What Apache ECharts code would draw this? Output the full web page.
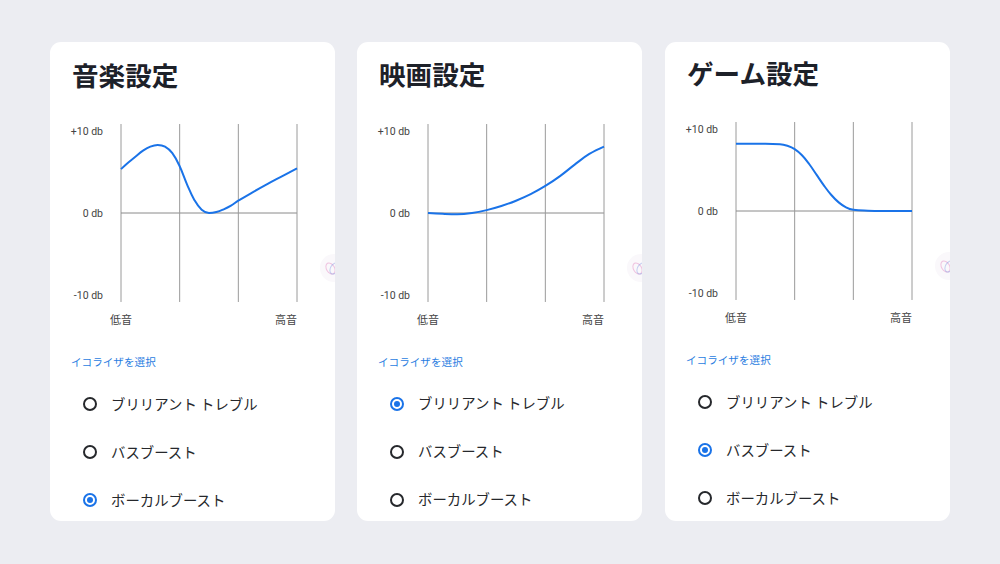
<!DOCTYPE html>
<html><head><meta charset="utf-8">
<script src="https://cdn.jsdelivr.net/npm/echarts@6/dist/echarts.min.js"></script>
<style>
html,body{margin:0;padding:0;width:1000px;height:564px;background:#ecedf2;overflow:hidden;font-family:"Noto Sans CJK JP","Noto Sans",Roboto,sans-serif;}
.card{position:absolute;top:42px;width:285px;height:479px;background:#fff;border-radius:11px;overflow:hidden;}
.inner{position:absolute;left:0;top:0;width:285px;height:479px;}
.title{position:absolute;left:22px;top:18.5px;font-size:26.6px;line-height:28px;font-weight:700;color:#1d2129;white-space:nowrap;}
.chart{position:absolute;left:0;top:0;width:285px;height:300px;}
.sel{position:absolute;left:21px;top:313px;font-size:10.6px;line-height:13px;color:#2a7de1;white-space:nowrap;}
.opt{position:absolute;left:61px;font-size:14.4px;line-height:18px;color:#26282c;white-space:nowrap;}
.radio{position:absolute;left:33px;width:10px;height:10px;border:2px solid #26282c;border-radius:50%;}
.radio.on{border-color:#1a73e8;}
.radio.on::after{content:"";position:absolute;left:2px;top:2px;width:6px;height:6px;border-radius:50%;background:#1a73e8;}
.deco{position:absolute;left:270px;top:212px;width:28px;height:28px;border-radius:50%;background:#faf8fb;}
.deco i{position:absolute;width:7px;height:11px;border:1px solid rgba(230,150,200,0.55);border-radius:50%;}
</style></head>
<body>
<div class="card" id="c0" style="left:50px"></div>
<div class="card" id="c1" style="left:357px"></div>
<div class="card" id="c2" style="left:665px"></div>
<script>
// ---- data ----
var cardTitles = ['音楽設定', '映画設定', 'ゲーム設定'];
var optionLabels = ['ブリリアント トレブル', 'バスブースト', 'ボーカルブースト'];
var selectedOption = [2, 0, 1];
var selectLabel = 'イコライザを選択';
var xLabelLow = '低音';
var xLabelHigh = '高音';
var yTickLabels = ['-10 db', '0 db', '+10 db'];
var bandLines = [0, 1, 2, 3];

var musicX  = [0, 0.125, 0.25, 0.375, 0.5, 0.625, 0.75, 0.875, 1.0, 1.125, 1.25, 1.375, 1.5, 1.625, 1.75, 1.875, 2.0, 2.25, 2.5, 2.75, 3.0];
var musicDb = [5.35, 6.15, 6.9, 7.6, 8.1, 8.3, 8.1, 7.3, 5.7, 3.5, 1.6, 0.4, 0.0, 0.12, 0.45, 0.9, 1.5, 2.55, 3.55, 4.5, 5.45];

var movieX  = [0, 0.25, 0.5, 0.75, 1.0, 1.25, 1.5, 1.75, 2.0, 2.25, 2.5, 2.75, 3.0];
var movieDb = [0, -0.1, -0.15, 0, 0.35, 0.85, 1.5, 2.3, 3.3, 4.5, 5.9, 7.2, 8.1];

var gameX  = [0, 0.25, 0.5, 0.75, 0.875, 1.0, 1.125, 1.25, 1.375, 1.5, 1.625, 1.75, 1.875, 2.0, 2.25, 2.5, 2.75, 3.0];
var gameDb = [8.2, 8.2, 8.2, 8.15, 7.95, 7.55, 6.8, 5.7, 4.4, 3.1, 1.95, 1.05, 0.45, 0.15, 0.03, 0, 0, 0];

var curves = [[musicX, musicDb], [movieX, movieDb], [gameX, gameDb]];
var cardShift = [0, -0.5, -2];

function pairs(xs, ys){ return xs.map(function(x,i){ return [x, ys[i]]; }); }

for (var c = 0; c < 3; c++) {
  var card = document.getElementById('c' + c);
  var inner = document.createElement('div');
  inner.className = 'inner';
  inner.style.top = cardShift[c] + 'px';
  card.appendChild(inner);

  var t = document.createElement('div'); t.className = 'title'; t.textContent = cardTitles[c]; inner.appendChild(t);
  var ch = document.createElement('div'); ch.className = 'chart'; inner.appendChild(ch);
  var s = document.createElement('div'); s.className = 'sel'; s.textContent = selectLabel; inner.appendChild(s);
  var d = document.createElement('div'); d.className = 'deco';
  d.innerHTML = '<i style="left:6px;top:8px;transform:rotate(-30deg)"></i><i style="left:10px;top:8px;border-color:rgba(150,170,230,0.55);transform:rotate(30deg)"></i>';
  inner.appendChild(d);
  for (var k = 0; k < 3; k++) {
    var cy = 362 + 48 * k;
    var r = document.createElement('div'); r.className = 'radio' + (selectedOption[c] === k ? ' on' : '');
    r.style.top = (cy - 7) + 'px'; inner.appendChild(r);
    var o = document.createElement('div'); o.className = 'opt'; o.textContent = optionLabels[k];
    o.style.top = (cy - 9.5) + 'px'; inner.appendChild(o);
  }

  var chart = echarts.init(ch, null, {renderer: 'svg', width: 285, height: 300});
  chart.setOption({
    animation: false,
    grid: {left: 71, width: 176, top: 89, height: 164},
    xAxis: {
      type: 'value', min: 0, max: 3, interval: 1,
      axisLine: {show: false}, axisTick: {show: false}, splitLine: {show: false},
      axisLabel: {
        margin: 18, fontSize: 11, color: '#444', fontFamily: '"Noto Sans CJK JP", sans-serif',
        showMinLabel: true, showMaxLabel: true, alignMaxLabel: 'right',
        formatter: function(v){ return v === 0 ? xLabelLow : (v === 3 ? xLabelHigh : ''); }
      }
    },
    yAxis: {
      type: 'value', min: -10, max: 10, interval: 10,
      axisLine: {show: false}, axisTick: {show: false}, splitLine: {show: false},
      axisLabel: {
        margin: 18, fontSize: 10.5, color: '#444', fontFamily: 'Roboto, "Liberation Sans", sans-serif',
        formatter: function(v){ return v > 0 ? yTickLabels[2] : (v < 0 ? yTickLabels[0] : yTickLabels[1]); }
      }
    },
    series: [
      {
        type: 'custom', clip: false, silent: true, z: 1,
        data: bandLines.map(function(b){ return [b]; }),
        renderItem: function(params, api){
          var x = api.value(0);
          var p1 = api.coord([x, -10.85]);
          var p2 = api.coord([x, 10.85]);
          var children = [{type: 'line', shape: {x1: p1[0], y1: p1[1], x2: p2[0], y2: p2[1]}, style: {stroke: '#9a9a9a', lineWidth: 1}}];
          if (params.dataIndex === 0) {
            var a = api.coord([bandLines[0], 0]);
            var b = api.coord([bandLines[bandLines.length - 1], 0]);
            children.push({type: 'line', shape: {x1: a[0], y1: a[1], x2: b[0], y2: b[1]}, style: {stroke: '#8a8a8a', lineWidth: 1}});
          }
          return {type: 'group', children: children};
        }
      },
      {
        type: 'line', smooth: 0.4, showSymbol: false, z: 3, silent: true,
        data: pairs(curves[c][0], curves[c][1]),
        lineStyle: {color: '#1a73e8', width: 2}
      }
    ]
  });
}
</script>
</body></html>
